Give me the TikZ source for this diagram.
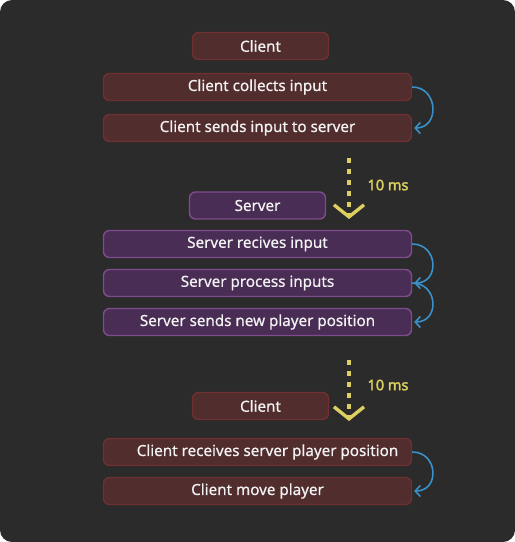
\documentclass[tikz,border=0pt]{standalone}
\usepackage{fontspec}
\setmainfont{Noto Sans}
\newfontfamily\medfont{Noto Sans}[FakeBold=0.6]
\newfontfamily\heavyfont{Noto Sans}[FakeBold=2.2]
\usetikzlibrary{arrows.meta}
\definecolor{bg}{HTML}{2B2B2B}
\definecolor{cfill}{HTML}{522D2E}
\definecolor{cdraw}{HTML}{6E3031}
\definecolor{sfill}{HTML}{4A2D55}
\definecolor{sdraw}{HTML}{7E4C8D}
\definecolor{txt}{HTML}{F2F2F2}
\definecolor{ylw}{HTML}{DDD060}
\definecolor{blu}{HTML}{3A90C8}
\tikzset{
  box/.style={rounded corners=6pt, line width=1.4pt, minimum height=27pt, inner sep=0pt,
    text=txt, font=\medfont\fontsize{15.2}{17}\selectfont},
  cbox/.style={box, fill=cfill, draw=cdraw},
  sbox/.style={box, fill=sfill, draw=sdraw},
  wide/.style={minimum width=308pt},
  head/.style={minimum width=136pt},
  loop/.style={draw=blu, line width=1.6pt, -{Straight Barb[length=5pt,width=11pt,line width=1.6pt]}},
  delay/.style={draw=ylw, line width=3.5pt, dash pattern=on 5pt off 6pt,
    -{Straight Barb[length=12pt,width=30pt,line width=3.4pt]}},
  delaylbl/.style={text=ylw, font=\heavyfont\fontsize{14.5}{16}\selectfont}
}
\begin{document}
\begin{tikzpicture}[x=1pt,y=-1pt]
\useasboundingbox (0,0) rectangle (515,542);
\fill[white] (0,0) rectangle (515,542);
\fill[bg, rounded corners=12pt] (0,0) rectangle (515,542);

\node[cbox, head] (c1) at (260.5,46) {Client};
\node[cbox, wide] (c2) at (257.5,87) {Client collects input};
\node[cbox, wide] (c3) at (257.5,128) {Client sends input to server};

\node[sbox, head] (s1) at (257.5,205.5) {Server};
\node[sbox, wide] (s2) at (257.5,244) {Server recives input};
\node[sbox, wide] (s3) at (257.5,283) {Server process inputs};
\node[sbox, wide] (s4) at (257.5,322) {Server sends new player position};

\node[cbox, head] (c4) at (260.5,406) {Client};
\node[cbox, wide] (c5) at (257.5,452) {\hspace*{20pt}Client receives server player position};
\node[cbox, wide] (c6) at (257.5,491) {Client move player};

\draw[loop] (c2.east) .. controls +(26,0) and +(26,0) .. ([xshift=2pt]c3.east);
\draw[loop] (s2.east) .. controls +(26,0) and +(26,0) .. ([xshift=2pt]s3.east);
\draw[loop] (s3.east) .. controls +(26,0) and +(26,0) .. ([xshift=2pt]s4.east);
\draw[loop] (c5.east) .. controls +(26,0) and +(26,0) .. ([xshift=2pt]c6.east);

\coordinate (d1a) at (349,158);
\coordinate (d1b) at (349,219);
\coordinate (d2a) at (349,360);
\coordinate (d2b) at (349,421);
\draw[delay] (d1a) -- (d1b);
\draw[delay] (d2a) -- (d2b);
\node[delaylbl] (l1) at (388,185) {10 ms};
\node[delaylbl] (l2) at (388,385) {10 ms};
\end{tikzpicture}
\end{document}
